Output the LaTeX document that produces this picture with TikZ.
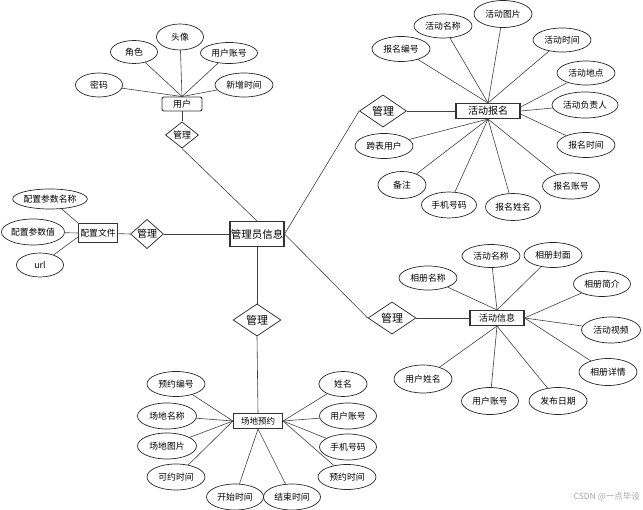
\documentclass[tikz,border=0pt]{standalone}
\usepackage{fontspec}
\setmainfont{Noto Sans CJK SC}
\usetikzlibrary{shapes.geometric,calc}
\tikzset{
  attr/.style={draw=black!85,line width=0.7pt,ellipse,inner sep=0pt,font=\fontsize{8.8}{9}\selectfont},
  ent/.style={draw=black!80,line width=1.1pt,rectangle,inner sep=0pt,font=\fontsize{8.8}{9}\selectfont},
  rel/.style={draw=black!85,line width=0.7pt,diamond,inner sep=0pt,font=\fontsize{11}{12}\selectfont},
  conn/.style={draw=black!75,line width=0.6pt},
}
\begin{document}
\begin{tikzpicture}[x=1pt,y=-1pt]
\useasboundingbox (0,0) rectangle (643,510);
% central entity
\node[ent,minimum width=54pt,minimum height=25pt,font=\fontsize{10.5}{11}\selectfont] (adm) at (257,234) {管理员信息};
% user block
\node[ent,rounded corners=2pt,line width=0.9pt,minimum width=40pt,minimum height=14pt,font=\fontsize{9}{10}\selectfont] (yh) at (182,104) {用户};
\node[rel,minimum width=33pt,minimum height=24pt,font=\fontsize{9}{10}\selectfont] (r1) at (182,135) {管理};
\node[attr,minimum width=47pt,minimum height=26pt] (u1) at (180,37) {头像};
\node[attr,minimum width=47pt,minimum height=23pt] (u2) at (134,52) {角色};
\node[attr,minimum width=57pt,minimum height=21pt] (u3) at (229,53) {用户账号};
\node[attr,minimum width=47pt,minimum height=24pt] (u4) at (99,85) {密码};
\node[attr,minimum width=58pt,minimum height=24pt] (u5) at (244,85) {新增时间};
\foreach \a in {u1,u2,u3,u4,u5} \draw[conn] (\a) -- (yh.north);
\draw[conn] (yh) -- (r1.north);
\draw[conn] (r1.south) -- (adm.north);
% config block
\node[ent,minimum width=39pt,minimum height=19pt] (pz) at (98,233) {配置文件};
\node[rel,minimum width=33pt,minimum height=21pt,font=\fontsize{10}{11}\selectfont] (r2) at (147,234) {管理};
\node[attr,minimum width=74pt,minimum height=20pt] (c1) at (50,199) {配置参数名称};
\node[attr,minimum width=63pt,minimum height=26pt] (c2) at (33,232) {配置参数值};
\node[attr,minimum width=47pt,minimum height=24pt] (c3) at (40,265) {url};
\draw[conn] (c1) -- (pz.north west);
\draw[conn] (c2) -- (pz.west);
\draw[conn] (c3) -- ($(pz.west)+(0,4)$);
\draw[conn] (pz) -- (r2.west);
\draw[conn] (r2.east) -- (adm.west);
% activity signup block
\node[ent,minimum width=64pt,minimum height=15pt,font=\fontsize{10}{11}\selectfont] (hd) at (488,111) {活动报名};
\node[rel,minimum width=47pt,minimum height=29pt] (r3) at (383,111) {管理};
\draw[conn] (adm.east) -- (r3.west);
\draw[conn] (r3.east) -- (hd.west);
\node[attr,minimum width=58pt,minimum height=25pt] (h1) at (401,49) {报名编号};
\node[attr,minimum width=58pt,minimum height=24pt] (h2) at (443,26) {活动名称};
\node[attr,minimum width=58pt,minimum height=27pt] (h3) at (503,14) {活动图片};
\node[attr,minimum width=58pt,minimum height=24pt] (h4) at (562,40) {活动时间};
\node[attr,minimum width=58pt,minimum height=24pt] (h5) at (586,73) {活动地点};
\node[attr,minimum width=66pt,minimum height=26pt] (h6) at (585,105) {活动负责人};
\node[attr,minimum width=58pt,minimum height=25pt] (h7) at (586,145) {报名时间};
\node[attr,minimum width=57pt,minimum height=26pt] (h8) at (571,186) {报名账号};
\node[attr,minimum width=55pt,minimum height=27pt] (h9) at (513,207) {报名姓名};
\node[attr,minimum width=55pt,minimum height=26pt] (h10) at (449,205) {手机号码};
\node[attr,minimum width=48pt,minimum height=27pt] (h11) at (402,185) {备注};
\node[attr,minimum width=58pt,minimum height=25pt] (h12) at (384,146) {跨表用户};
\foreach \a in {h1,h2,h3,h4} \draw[conn] (\a) -- (hd.north);
\draw[conn] (h5) -- ($(hd.east)+(0,-4)$);
\draw[conn] (h6) -- (hd.east);
\draw[conn] (h7) -- ($(hd.east)+(0,3)$);
\foreach \a in {h8,h9,h10,h11,h12} \draw[conn] (\a) -- (hd.south);
% activity info block
\node[ent,minimum width=54pt,minimum height=15pt,font=\fontsize{9}{10}\selectfont] (ai) at (497,318) {活动信息};
\node[rel,minimum width=48pt,minimum height=30pt] (r4) at (392,318) {管理};
\draw[conn] (adm.east) -- (r4.west);
\draw[conn] (r4.east) -- (ai.west);
\node[attr,minimum width=58pt,minimum height=24pt] (a1) at (428,278) {相册名称};
\node[attr,minimum width=58pt,minimum height=23pt] (a2) at (491,256) {活动名称};
\node[attr,minimum width=58pt,minimum height=25pt] (a3) at (553,255) {相册封面};
\node[attr,minimum width=57pt,minimum height=25pt] (a4) at (602,284) {相册简介};
\node[attr,minimum width=59pt,minimum height=26pt] (a5) at (611,330) {活动视频};
\node[attr,minimum width=58pt,minimum height=27pt] (a6) at (608,372) {相册详情};
\node[attr,minimum width=58pt,minimum height=27pt] (a7) at (558,401) {发布日期};
\node[attr,minimum width=57pt,minimum height=27pt] (a8) at (490,401) {用户账号};
\node[attr,minimum width=58pt,minimum height=28pt] (a9) at (423,379) {用户姓名};
\foreach \a in {a1,a2,a3} \draw[conn] (\a) -- (ai.north);
\foreach \a in {a4,a5,a6} \draw[conn] (\a) -- (ai.east);
\foreach \a in {a7,a8,a9} \draw[conn] (\a) -- (ai.south);
% venue booking block
\node[rel,minimum width=48pt,minimum height=31pt] (r5) at (257,320) {管理};
\node[ent,minimum width=49pt,minimum height=15pt,font=\fontsize{8.5}{9}\selectfont] (cd) at (258,421) {场地预约};
\draw[conn] (adm.south) -- (r5.north);
\draw[conn] (r5.south) -- (cd.north);
\node[attr,minimum width=58pt,minimum height=25pt] (v1) at (176,384) {预约编号};
\node[attr,minimum width=59pt,minimum height=26pt] (v2) at (167,416) {场地名称};
\node[attr,minimum width=59pt,minimum height=26pt] (v3) at (167,446) {场地图片};
\node[attr,minimum width=58pt,minimum height=26pt] (v4) at (176,477) {可约时间};
\node[attr,minimum width=57pt,minimum height=26pt] (v5) at (235,497) {开始时间};
\node[attr,minimum width=57pt,minimum height=26pt] (v6) at (292,497) {结束时间};
\node[attr,minimum width=58pt,minimum height=25pt] (v7) at (347,477) {预约时间};
\node[attr,minimum width=57pt,minimum height=26pt] (v8) at (348,447) {手机号码};
\node[attr,minimum width=57pt,minimum height=26pt] (v9) at (348,416) {用户账号};
\node[attr,minimum width=48pt,minimum height=25pt] (v10) at (343,384) {姓名};
\foreach \a in {v1,v2,v3,v4} \draw[conn] (\a) -- (cd.west);
\foreach \a in {v5,v6} \draw[conn] (\a) -- (cd.south);
\foreach \a in {v7,v8,v9,v10} \draw[conn] (\a) -- (cd.east);
% watermark
\node[text=black!35,font=\fontsize{8.5}{9}\selectfont,anchor=east,inner sep=0pt] (wm) at (640,497) {CSDN @一点毕设};
\end{tikzpicture}
\end{document}
